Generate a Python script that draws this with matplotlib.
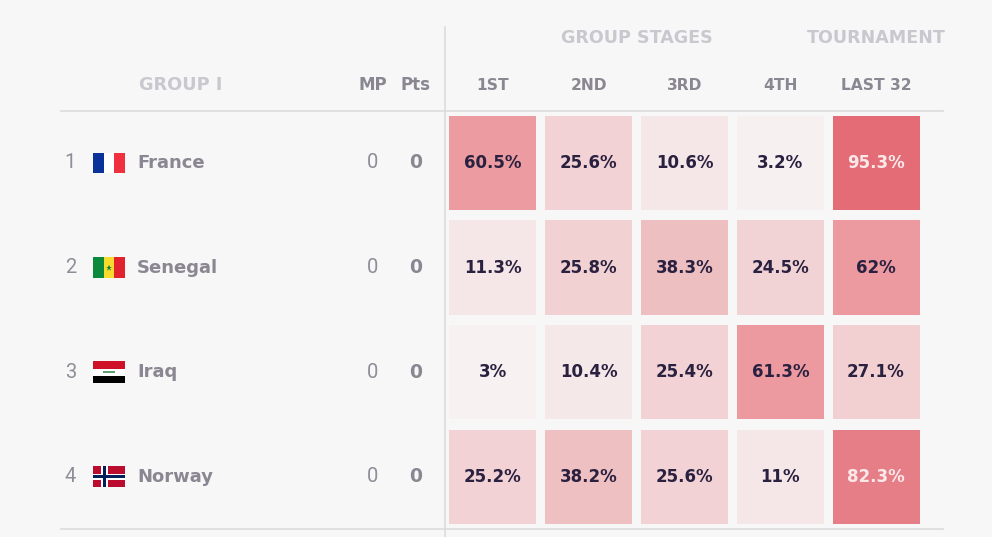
import numpy as np
import matplotlib.pyplot as plt
from matplotlib.colors import LinearSegmentedColormap
from matplotlib.patches import Rectangle

teams = ['France', 'Senegal', 'Iraq', 'Norway']
ranks = ['1', '2', '3', '4']
mp = [0, 0, 0, 0]
pts = [0, 0, 0, 0]
columns = ['1ST', '2ND', '3RD', '4TH', 'LAST 32']
first = [60.5, 11.3, 3, 25.2]
second = [25.6, 25.8, 10.4, 38.2]
third = [10.6, 38.3, 25.4, 25.6]
fourth = [3.2, 24.5, 61.3, 11]
last32 = [95.3, 62, 27.1, 82.3]

BG = '#f7f7f7'
GREY = '#8a8792'
THIN = '#8f8d97'
LIGHT = '#c9c8ce'
DARK = '#2a2140'
RULE = '#dcdcde'
FONT = 'DejaVu Sans'

cmap = LinearSegmentedColormap.from_list('cells', [
    (0.0, '#f7f4f4'), (0.11, '#f5e7e7'), (0.26, '#f2d1d3'), (0.40, '#eebdbf'),
    (0.62, '#ec999f'), (0.85, '#e57b84'), (1.0, '#e26570')])

fig = plt.figure(figsize=(9.92, 5.37), dpi=100, facecolor=BG)
ax = fig.add_axes([0, 0, 1, 1])
ax.set_xlim(0, 992)
ax.set_ylim(537, 0)
ax.axis('off')

row_y = [163, 267.6, 372.2, 476.8]
col_x = [492.5, 588.5, 684.5, 780.5, 876]
cell_w, cell_h = 87, 94.5


def flag(name, y):
    x0, w = 93, 32
    if name == 'France':
        h = 20
        top = y - h / 2
        for i, c in enumerate(['#0a3299', '#ffffff', '#f0303f']):
            ax.add_patch(Rectangle((x0 + i * w / 3, top), w / 3, h, fc=c, lw=0))
    elif name == 'Senegal':
        h = 21
        top = y - h / 2
        for i, c in enumerate(['#0b8a3c', '#f7dc2d', '#e1232e']):
            ax.add_patch(Rectangle((x0 + i * w / 3, top), w / 3, h, fc=c, lw=0))
        ax.plot(x0 + w / 2, y, marker='*', ms=5, color='#0b7a3a', mew=0)
    elif name == 'Iraq':
        h = 21.5
        top = y - h / 2
        for i, c in enumerate(['#ce1126', '#ffffff', '#000000']):
            ax.add_patch(Rectangle((x0, top + i * h / 3), w, h / 3, fc=c, lw=0))
        ax.add_patch(Rectangle((x0 + 10, y - 1), 12, 2, fc='#5f9e70', lw=0))
    else:
        h = 21
        top = y - h / 2
        ax.add_patch(Rectangle((x0, top), w, h, fc='#ba0c2f', lw=0))
        ax.add_patch(Rectangle((x0 + 8, top), 6.5, h, fc='#ffffff', lw=0))
        ax.add_patch(Rectangle((x0, y - 3.2), w, 6.4, fc='#ffffff', lw=0))
        ax.add_patch(Rectangle((x0 + 9.6, top), 3.3, h, fc='#00205b', lw=0))
        ax.add_patch(Rectangle((x0, y - 1.6), w, 3.2, fc='#00205b', lw=0))


# rules
ax.plot([61, 943], [110.5, 110.5], color=RULE, lw=1.2)
ax.plot([61, 943], [529, 529], color=RULE, lw=1.2)
ax.plot([444.5, 444.5], [27, 537], color=RULE, lw=1.2)

# headers
ax.text(637, 38, 'GROUP STAGES', color=LIGHT, fontsize=12.6, fontweight='bold',
        family=FONT, ha='center', va='center')
ax.text(876, 38, 'TOURNAMENT', color=LIGHT, fontsize=12.6, fontweight='bold',
        family=FONT, ha='center', va='center')
ax.text(181, 85, 'GROUP I', color=LIGHT, fontsize=12.8, fontweight='bold',
        family=FONT, ha='center', va='center')
ax.text(372.5, 85, 'MP', color=GREY, fontsize=12, fontweight='bold',
        family=FONT, ha='center', va='center')
ax.text(415.5, 85, 'Pts', color=GREY, fontsize=12, fontweight='bold',
        family=FONT, ha='center', va='center')
for x, label in zip(col_x, columns):
    ax.text(x, 85, label, color=GREY, fontsize=11.2, fontweight='bold',
            family=FONT, ha='center', va='center')

# rows
values = np.array([first, second, third, fourth, last32], dtype=float).T
for r, y in enumerate(row_y):
    ax.text(70.5, y, ranks[r], color=THIN, fontsize=14.5, family='Roboto',
            fontweight='normal', ha='center', va='center')
    flag(teams[r], y)
    ax.text(137, y, teams[r], color=GREY, fontsize=13, fontweight='bold',
            family=FONT, ha='left', va='center')
    ax.text(372.5, y, str(mp[r]), color=THIN, fontsize=14.5, family='Roboto',
            fontweight='normal', ha='center', va='center')
    ax.text(415.5, y, str(pts[r]), color=GREY, fontsize=13.5, fontweight='bold',
            family=FONT, ha='center', va='center')
    for c, x in enumerate(col_x):
        v = values[r, c]
        ax.add_patch(Rectangle((x - cell_w / 2, y - cell_h / 2), cell_w, cell_h,
                               fc=cmap(v / 100), lw=0))
        ax.text(x, y, f'{v:g}%', color='#fbe9ea' if v > 80 else DARK, fontsize=12,
                fontweight='bold', family=FONT, ha='center', va='center')

fig.savefig('out.png', dpi=100, facecolor=BG)
